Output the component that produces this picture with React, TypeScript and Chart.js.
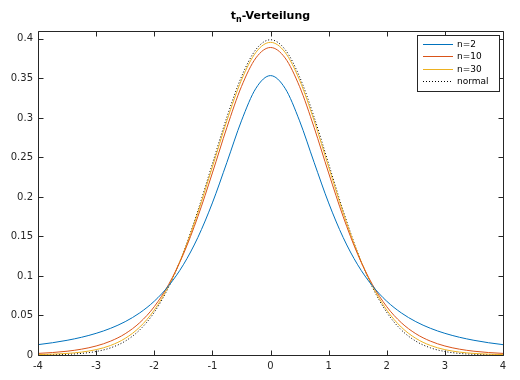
import React, { useEffect, useRef } from "react";
import { Chart, registerables } from "chart.js";

Chart.register(...registerables);

const xs = [-4, -3.75, -3.5, -3.25, -3, -2.75, -2.5, -2.25, -2, -1.75, -1.5, -1.25, -1, -0.75, -0.5, -0.25, 0,
  0.25, 0.5, 0.75, 1, 1.25, 1.5, 1.75, 2, 2.25, 2.5, 2.75, 3, 3.25, 3.5, 3.75, 4];

const n2 = [0.01309, 0.01553, 0.01859, 0.02246, 0.02741, 0.03382, 0.0422, 0.05328, 0.06804, 0.0878, 0.11413, 0.14872,
  0.19245, 0.24378, 0.2963, 0.33761, 0.35355, 0.33761, 0.2963, 0.24378, 0.19245, 0.14872, 0.11413, 0.0878, 0.06804,
  0.05328, 0.0422, 0.03382, 0.02741, 0.02246, 0.01859, 0.01553, 0.01309];

const n10 = [0.00203, 0.00311, 0.00478, 0.00738, 0.0114, 0.01757, 0.02694, 0.0409, 0.06114, 0.08955, 0.12745, 0.1751,
  0.23037, 0.28799, 0.3397, 0.376, 0.38911, 0.376, 0.3397, 0.28799, 0.23037, 0.1751, 0.12745, 0.08955, 0.06114,
  0.0409, 0.02694, 0.01757, 0.0114, 0.00738, 0.00478, 0.00311, 0.00203];

const n30 = [0.00053, 0.00102, 0.00196, 0.00369, 0.00678, 0.01213, 0.02106, 0.03528, 0.05685, 0.08769, 0.12896, 0.1801,
  0.238, 0.29666, 0.34788, 0.38307, 0.39563, 0.38307, 0.34788, 0.29666, 0.238, 0.1801, 0.12896, 0.08769, 0.05685,
  0.03528, 0.02106, 0.01213, 0.00678, 0.00369, 0.00196, 0.00102, 0.00053];

const normal = [0.00013, 0.00035, 0.00087, 0.00203, 0.00443, 0.00909, 0.01753, 0.03174, 0.05399, 0.08628, 0.12952,
  0.18265, 0.24197, 0.30114, 0.35207, 0.38667, 0.39894, 0.38667, 0.35207, 0.30114, 0.24197, 0.18265, 0.12952, 0.08628,
  0.05399, 0.03174, 0.01753, 0.00909, 0.00443, 0.00203, 0.00087, 0.00035, 0.00013];

const seriesLabels = ["n=2", "n=10", "n=30", "normal"];
const xTicks = [-4, -3, -2, -1, 0, 1, 2, 3, 4];
const yTicks = [0, 0.05, 0.1, 0.15, 0.2, 0.25, 0.3, 0.35, 0.4];

const FONT = "DejaVu Sans";

const framePlugin = {
  id: "frame",
  afterDatasetsDraw(chart: any) {
    const { ctx, chartArea: a, scales } = chart;
    ctx.save();
    ctx.strokeStyle = "#262626";
    ctx.lineWidth = 1;
    ctx.setLineDash([]);
    ctx.beginPath();
    const L = Math.round(a.left) + 0.5, R = Math.round(a.right) + 0.5;
    const T = Math.round(a.top) + 0.5, B = Math.round(a.bottom) + 0.5;
    ctx.rect(L, T, R - L, B - T);
    xTicks.forEach((v) => {
      const px = Math.round(scales.x.getPixelForValue(v)) + 0.5;
      ctx.moveTo(px, B); ctx.lineTo(px, B - 5);
      ctx.moveTo(px, T); ctx.lineTo(px, T + 5);
    });
    yTicks.forEach((v) => {
      const py = Math.round(scales.y.getPixelForValue(v)) + 0.5;
      ctx.moveTo(L, py); ctx.lineTo(L + 5, py);
      ctx.moveTo(R, py); ctx.lineTo(R - 5, py);
    });
    ctx.stroke();

    // title with subscript
    ctx.fillStyle = "#000";
    ctx.textBaseline = "alphabetic";
    ctx.font = `bold 11px ${FONT}`;
    const t1 = "t", t3 = "-Verteilung";
    const w1 = ctx.measureText(t1).width;
    const w3 = ctx.measureText(t3).width;
    ctx.font = `bold 8px ${FONT}`;
    const w2 = ctx.measureText("n").width;
    const total = w1 + w2 + w3;
    const cx = (a.left + a.right) / 2;
    let x = cx - total / 2;
    const base = 19;
    ctx.font = `bold 11px ${FONT}`;
    ctx.textAlign = "left";
    ctx.fillText(t1, x, base);
    x += w1;
    ctx.font = `bold 8px ${FONT}`;
    ctx.fillText("n", x, base + 3);
    x += w2;
    ctx.font = `bold 11px ${FONT}`;
    ctx.fillText(t3, x, base);

    // legend
    const lx = 417.5, ly = 35.5, lw = 82, lh = 56;
    ctx.fillStyle = "#fff";
    ctx.fillRect(lx, ly, lw, lh);
    ctx.strokeStyle = "#262626";
    ctx.strokeRect(lx, ly, lw, lh);
    ctx.font = `9px ${FONT}`;
    ctx.textBaseline = "middle";
    chart.data.datasets.forEach((ds: any, i: number) => {
      const yy = Math.round(44 + i * 12.3) + 0.5;
      ctx.strokeStyle = ds.borderColor;
      ctx.lineWidth = 1;
      ctx.setLineDash(ds.borderDash || []);
      ctx.beginPath();
      ctx.moveTo(423, yy);
      ctx.lineTo(453, yy);
      ctx.stroke();
      ctx.fillStyle = "#000";
      ctx.fillText(ds.label, 457, yy);
    });
    ctx.restore();
  },
};

export default function App() {
  const ref = useRef<HTMLCanvasElement>(null);
  useEffect(() => {
    document.body.style.margin = "0";
    const mk = (arr: number[]) => xs.map((x, i) => ({ x, y: arr[i] }));
    const common = { borderWidth: 1, pointRadius: 0, cubicInterpolationMode: "monotone" as const };
    const chart = new Chart(ref.current!, {
      type: "line",
      data: {
        datasets: [
          { label: seriesLabels[0], data: mk(n2), borderColor: "#0072BD", ...common },
          { label: seriesLabels[1], data: mk(n10), borderColor: "#D95319", ...common },
          { label: seriesLabels[2], data: mk(n30), borderColor: "#EDB120", ...common },
          { label: seriesLabels[3], data: mk(normal), borderColor: "#000000", borderDash: [1, 2], ...common },
        ],
      },
      options: {
        animation: false,
        responsive: false,
        layout: { padding: { left: 0, right: 17, top: 31, bottom: 0 } },
        plugins: { legend: { display: false }, title: { display: false }, tooltip: { enabled: false } },
        scales: {
          x: {
            type: "linear", min: -4, max: 4,
            grid: { display: false, drawTicks: false }, border: { display: false },
            afterBuildTicks: (s: any) => { s.ticks = xTicks.map((v) => ({ value: v })); },
            afterFit: (s: any) => { s.height = 25; },
            ticks: { padding: 5, color: "#262626", font: { family: FONT, size: 10 }, callback: (v: any) => String(v), maxRotation: 0 },
          },
          y: {
            min: 0, max: 0.41,
            grid: { display: false, drawTicks: false }, border: { display: false },
            afterBuildTicks: (s: any) => { s.ticks = yTicks.map((v) => ({ value: v })); },
            afterFit: (s: any) => { s.width = 38; },
            ticks: { padding: 5, color: "#262626", font: { family: FONT, size: 10 }, callback: (v: any) => String(Math.round(Number(v) * 100) / 100) },
          },
        },
      },
      plugins: [framePlugin],
    });
    return () => chart.destroy();
  }, []);
  return (
    <div style={{ width: 520, height: 380 }}>
      <canvas ref={ref} width={520} height={380} />
    </div>
  );
}
